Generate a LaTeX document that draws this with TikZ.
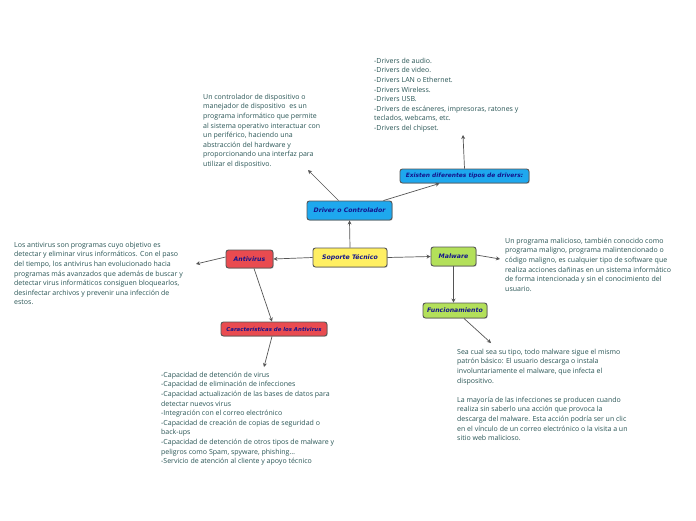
\documentclass[tikz,border=0pt]{standalone}
\usepackage{fontspec}
\setmainfont{Open Sans}
\newfontfamily\nodefont{DejaVu Sans}
\usetikzlibrary{arrows.meta,shadows}
\definecolor{txt}{HTML}{2A5656}
\definecolor{ntxt}{HTML}{14148C}
\definecolor{cyel}{HTML}{FFEF62}
\definecolor{cblu}{HTML}{1EA8EE}
\definecolor{cred}{HTML}{E94B50}
\definecolor{cgrn}{HTML}{B3E05A}
\definecolor{lne}{HTML}{555555}
\tikzset{
  topic/.style={draw=lne, line width=0.9pt, rounded corners=2.5pt, inner sep=0pt,
    font=\nodefont\bfseries\itshape\fontsize{6.2}{7}\selectfont, text=ntxt,
    drop shadow={shadow xshift=0.8pt, shadow yshift=-0.8pt, opacity=0.35}},
  desc/.style={anchor=north west, inner sep=0pt, align=left, text=txt,
    font=\fontsize{7.0}{9.6}\selectfont},
  conn/.style={draw=lne, line width=0.7pt, -{Stealth[length=4pt,width=4pt]}},
}
\begin{document}
\begin{tikzpicture}[x=1pt,y=-1pt]
\useasboundingbox (0,0) rectangle (696,520);
\fill[white] (0,0) rectangle (696,520);

\node[topic, fill=cyel, minimum width=74pt, minimum height=19pt] (sop) at (350,257.5) {Soporte Técnico};
\node[topic, fill=cblu, minimum width=85pt, minimum height=19pt] (drv) at (349.5,210.5) {Driver o Controlador};
\node[topic, fill=cblu, minimum width=129pt, minimum height=14pt, font=\nodefont\bfseries\itshape\fontsize{5.9}{7}\selectfont] (exi) at (464.5,176) {Existen diferentes tipos de drivers:};
\node[topic, fill=cred, minimum width=47pt, minimum height=18pt] (ant) at (249.5,259) {Antivirus};
\node[topic, fill=cgrn, minimum width=45pt, minimum height=19pt] (mal) at (453.5,256.5) {Malware};
\node[topic, fill=cgrn, minimum width=64pt, minimum height=15pt] (fun) at (455,310.5) {Funcionamiento};
\node[topic, fill=cred, minimum width=106pt, minimum height=14pt, font=\nodefont\bfseries\itshape\fontsize{5.4}{6}\selectfont] (car) at (274,329) {Características de los Antivirus};

\node[desc] (tdrv) at (203,93.8) {Un controlador de dispositivo o\\manejador de dispositivo\ \ es un\\programa informático que permite\\al sistema operativo interactuar con\\un periférico, haciendo una\\abstracción del hardware y\\proporcionando una interfaz para\\utilizar el dispositivo.};
\node[desc] (texi) at (374,57.8) {-Drivers de audio.\\-Drivers de video.\\-Drivers LAN o Ethernet.\\-Drivers Wireless.\\-Drivers USB.\\-Drivers de escáneres, impresoras, ratones y\\teclados, webcams, etc.\\-Drivers del chipset.};
\node[desc] (tant) at (14,241.8) {Los antivirus son programas cuyo objetivo es\\detectar y eliminar virus informáticos. Con el paso\\del tiempo, los antivirus han evolucionado hacia\\programas más avanzados que además de buscar y\\detectar virus informáticos consiguen bloquearlos,\\desinfectar archivos y prevenir una infección de\\estos.};
\node[desc] (tmal) at (505,237.8) {Un programa malicioso, también conocido como\\programa maligno, programa malintencionado o\\código maligno, es cualquier tipo de software que\\realiza acciones dañinas en un sistema informático\\de forma intencionada y sin el conocimiento del\\usuario.};
\node[desc] (tcar) at (161,371.8) {-Capacidad de detención de virus\\-Capacidad de eliminación de infecciones\\-Capacidad actualización de las bases de datos para\\detectar nuevos virus\\-Integración con el correo electrónico\\-Capacidad de creación de copias de seguridad o\\back-ups\\-Capacidad de detención de otros tipos de malware y\\peligros como Spam, spyware, phishing…\\-Servicio de atención al cliente y apoyo técnico};
\node[desc] (tfun) at (457,348.8) {Sea cual sea su tipo, todo malware sigue el mismo\\patrón básico: El usuario descarga o instala\\involuntariamente el malware, que infecta el\\dispositivo.\\[9.6pt]La mayoría de las infecciones se producen cuando\\realiza sin saberlo una acción que provoca la\\descarga del malware. Esta acción podría ser un clic\\en el vínculo de un correo electrónico o la visita a un\\sitio web malicioso.};

\coordinate (edrv) at (308,170);
\coordinate (eexi) at (463,135);
\coordinate (eant) at (196,264);
\coordinate (ecar) at (264,367);
\coordinate (emal) at (500,259);
\coordinate (efun) at (491,343);

\draw[conn] (sop.north) -- (drv.south);
\draw[conn] (sop.west) -- (ant.east);
\draw[conn] (sop.east) -- (mal.west);
\draw[conn] (drv.north west) ++(32,0) -- (edrv);
\draw[conn] ([xshift=-9pt]drv.north east) -- ([xshift=-25pt]exi.south);
\draw[conn] (exi.north) -- (eexi);
\draw[conn] ([yshift=2pt]ant.west) -- (eant);
\draw[conn] ([xshift=4.5pt]ant.south) -- ([xshift=-2pt]car.north);
\draw[conn] ([xshift=-2pt]car.south) -- (ecar);
\draw[conn] ([yshift=1.5pt]mal.east) -- (emal);
\draw[conn] (mal.south) -- (mal.south |- fun.north);
\draw[conn] ([xshift=9pt]fun.south) -- (efun);
\end{tikzpicture}
\end{document}
